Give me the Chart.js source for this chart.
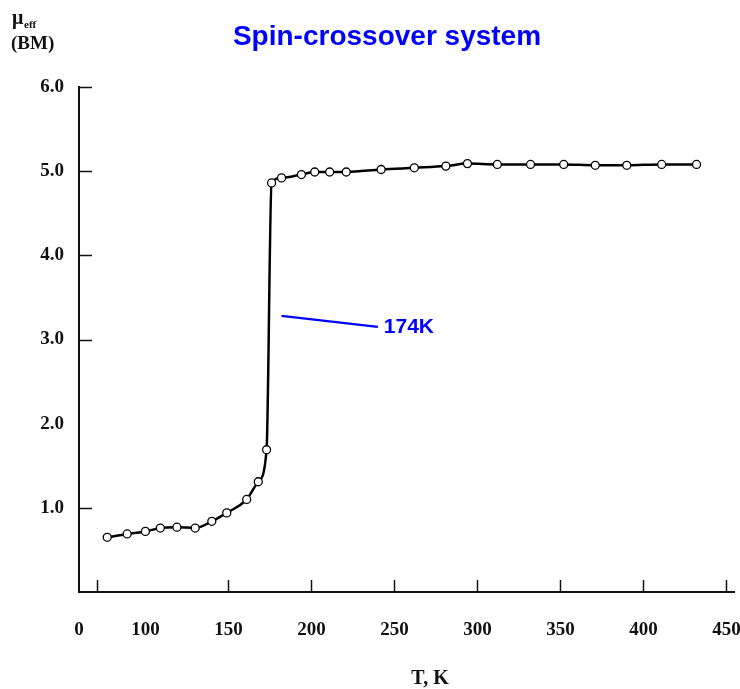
<!DOCTYPE html>
<html>
<head>
<meta charset="utf-8">
<script src="https://cdn.jsdelivr.net/npm/chart.js@4.4.1/dist/chart.umd.min.js"></script>
<style>
  html, body { margin: 0; padding: 0; background: #fff; }
  #wrap { width: 740px; height: 689px; }
</style>
</head>
<body>
<div id="wrap"><canvas id="muChart" width="740" height="689"></canvas></div>
<script>
// measured points, T in K and mu_eff in BM
const temps = [77, 89, 100, 109, 119, 130, 140, 149, 161, 168, 173,
  176, 182, 194, 202, 211, 221, 242, 262, 281, 294, 312, 332, 352, 371, 390, 411, 432];
const muEff = [0.65, 0.69, 0.72, 0.76, 0.77, 0.76, 0.84, 0.94, 1.10, 1.31, 1.69,
  4.86, 4.92, 4.96, 4.99, 4.99, 4.99, 5.02, 5.04, 5.06, 5.09, 5.08, 5.08, 5.08, 5.07, 5.07, 5.08, 5.08];

// axis ticks (the original axis starts at ~60 K but is labelled "0")
const xTickValues = [60, 100, 150, 200, 250, 300, 350, 400, 450];
const xTickLabels = ["0", "100", "150", "200", "250", "300", "350", "400", "450"];
const xTickMarks = [71, 150, 200, 250, 300, 350, 400, 450];
const yTickValues = [1, 2, 3, 4, 5, 6];
const yTickMarks = [1, 3, 4, 5, 6];

const titleText = "Spin-crossover system";
const transitionLabel = "174K";
// leader line for the transition label, [T, mu] at each end
const leaderFrom = [182, 3.28];
const leaderTo = [240, 3.15];

const serif = "'Liberation Serif', 'Times New Roman', serif";
const sans = "'Liberation Sans', Arial, sans-serif";
const blue = "#0000ff";

const decor = {
  id: "decor",
  afterDraw(chart) {
    const ctx = chart.ctx;
    const xs = chart.scales.x, ys = chart.scales.y;
    ctx.save();

    // inward tick marks
    ctx.strokeStyle = "#111";
    ctx.lineWidth = 1.5;
    xTickMarks.forEach(v => {
      const px = Math.round(xs.getPixelForValue(v)) + 0.5;
      ctx.beginPath(); ctx.moveTo(px, ys.bottom); ctx.lineTo(px, ys.bottom - 12); ctx.stroke();
    });
    yTickMarks.forEach(v => {
      const py = Math.round(ys.getPixelForValue(v)) + 0.5;
      ctx.beginPath(); ctx.moveTo(xs.left, py); ctx.lineTo(xs.left + 13, py); ctx.stroke();
    });

    // title
    ctx.fillStyle = blue;
    ctx.font = "bold 28px " + sans;
    ctx.textAlign = "center";
    ctx.textBaseline = "alphabetic";
    ctx.fillText(titleText, 387, 45);

    // 174K label and leader line
    const ax = xs.getPixelForValue(leaderFrom[0]), ay = ys.getPixelForValue(leaderFrom[1]);
    const bx = xs.getPixelForValue(leaderTo[0]), by = ys.getPixelForValue(leaderTo[1]);
    ctx.strokeStyle = blue;
    ctx.lineWidth = 2.2;
    ctx.beginPath(); ctx.moveTo(ax, ay); ctx.lineTo(bx, by); ctx.stroke();
    ctx.font = "bold 21px " + sans;
    ctx.textAlign = "left";
    ctx.textBaseline = "middle";
    ctx.fillText(transitionLabel, bx + 6, by);

    // y unit label: mu_eff (BM)
    ctx.fillStyle = "#111";
    ctx.textBaseline = "alphabetic";
    ctx.font = "bold 20px " + serif;
    ctx.fillText("\u03bc", 12, 24);
    ctx.font = "bold 11px " + serif;
    ctx.fillText("eff", 24, 28);
    ctx.font = "bold 19px " + serif;
    ctx.fillText("(BM)", 11, 49);

    // x axis title
    ctx.font = "bold 20px " + serif;
    ctx.textAlign = "center";
    ctx.fillText("T, K", 430, 684);

    ctx.restore();
  }
};

new Chart(document.getElementById("muChart").getContext("2d"), {
  type: "line",
  data: {
    datasets: [{
      data: temps.map((t, i) => ({ x: t, y: muEff[i] })),
      borderColor: "#000",
      borderWidth: 2.5,
      cubicInterpolationMode: "monotone",
      pointRadius: 4,
      pointBorderWidth: 1.3,
      pointBorderColor: "#000",
      pointBackgroundColor: "#fff",
      fill: false
    }]
  },
  options: {
    responsive: false,
    animation: false,
    devicePixelRatio: 1,
    layout: { padding: { top: 87, left: 0, right: 3, bottom: 0 } },
    plugins: {
      legend: { display: false },
      tooltip: { enabled: false }
    },
    scales: {
      x: {
        type: "linear",
        min: 60,
        max: 455,
        afterBuildTicks: s => { s.ticks = xTickValues.map(v => ({ value: v })); },
        afterFit: s => { s.height = 97; s.paddingLeft = 0; s.paddingRight = 0; },
        grid: { display: false, drawTicks: false },
        border: { display: true, color: "#111", width: 2 },
        ticks: {
          color: "#111",
          font: { family: serif, size: 19, weight: "bold" },
          padding: 27,
          maxRotation: 0,
          autoSkip: false,
          callback: (v, i) => xTickLabels[i]
        }
      },
      y: {
        min: 0,
        max: 6,
        afterBuildTicks: s => { s.ticks = yTickValues.map(v => ({ value: v })); },
        afterFit: s => { s.width = 79; s.paddingTop = 0; s.paddingBottom = 0; },
        grid: { display: false, drawTicks: false },
        border: { display: true, color: "#111", width: 2 },
        ticks: {
          color: "#111",
          font: { family: serif, size: 19, weight: "bold" },
          padding: 15,
          callback: v => v.toFixed(1)
        }
      }
    }
  },
  plugins: [decor]
});
</script>
</body>
</html>
